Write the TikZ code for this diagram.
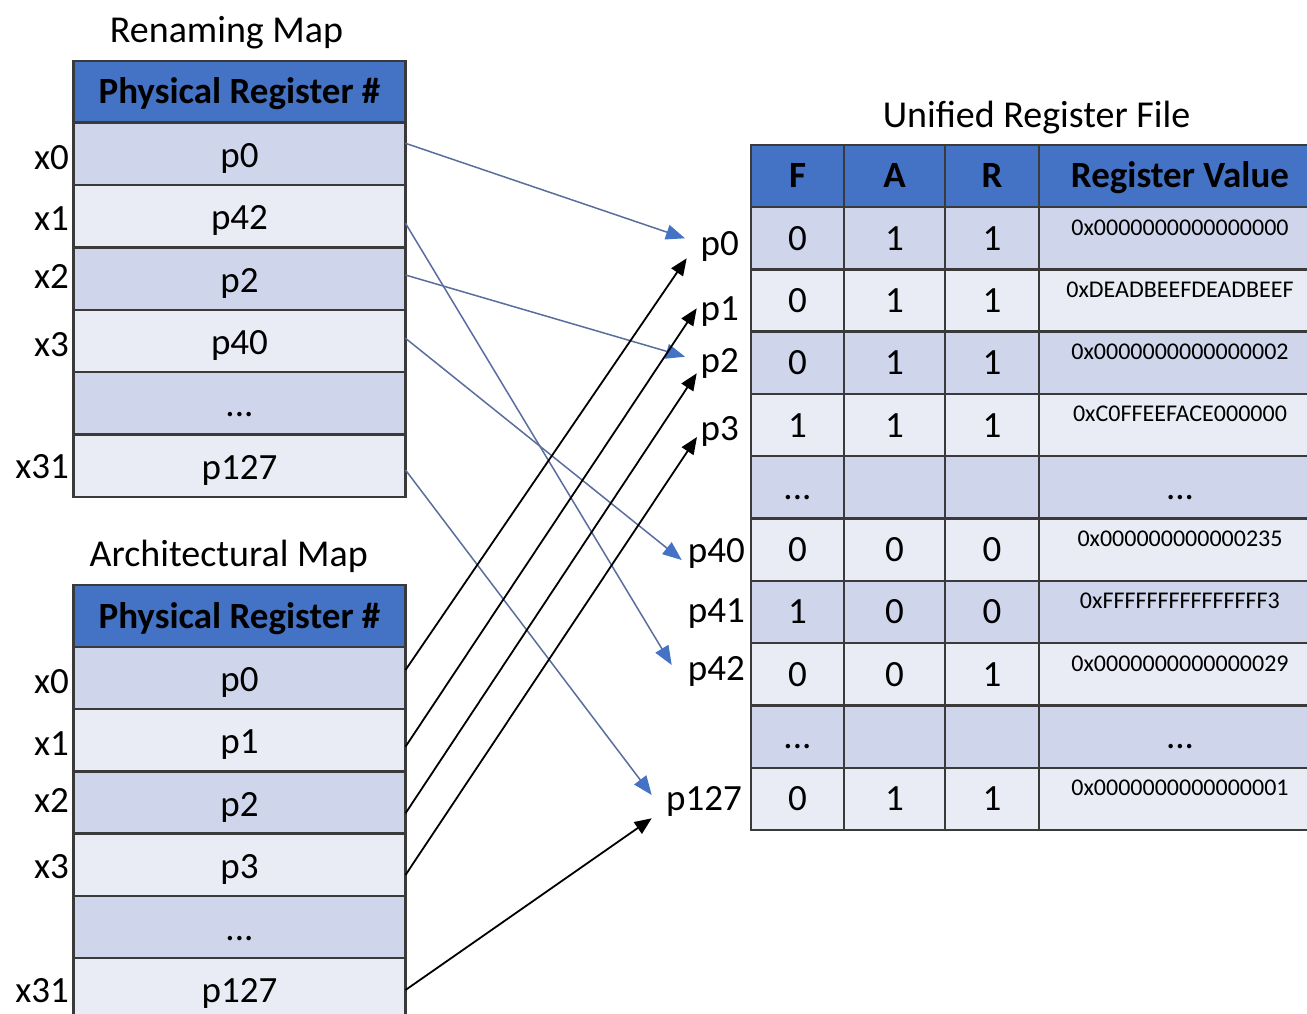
\documentclass[tikz,border=0pt]{standalone}
\usepackage{fontspec}
\setmainfont{Carlito}
\usetikzlibrary{arrows.meta}
\definecolor{hdrblue}{HTML}{4472C4}
\definecolor{rowdark}{HTML}{CFD5EA}
\definecolor{rowlight}{HTML}{E9EBF5}
\definecolor{gridline}{HTML}{3A3A3A}
\definecolor{linkblue}{HTML}{5A6E9E}
% ellipsis used in the elided rows
\newcommand{\rowdots}{...}

\begin{document}
\begin{tikzpicture}[x=1pt,y=-1pt,
  cell/.style={rectangle, draw=gridline, line width=2.4pt, inner sep=0pt, outer sep=0pt,
    font=\fontsize{37}{44}\selectfont, text height=24pt, text depth=0pt},
  hdr/.style={cell, fill=hdrblue, font=\fontsize{37}{44}\selectfont\bfseries},
  darkrow/.style={cell, fill=rowdark},
  lightrow/.style={cell, fill=rowlight},
  mapcell/.style={minimum width=332pt, text height=27pt},
  title/.style={font=\fontsize{38}{44}\selectfont, inner sep=0pt, anchor=base},
  lbl/.style={font=\fontsize{37}{44}\selectfont, inner sep=0pt, anchor=base east},
  hexval/.style={font=\fontsize{24}{28}\selectfont, inner sep=0pt, anchor=base},
  renlink/.style={draw=linkblue, line width=1.5pt,
    -{Triangle[length=19pt, width=15pt, color=hdrblue]}},
  archlink/.style={draw=black, line width=1.8pt,
    -{Triangle[length=17pt, width=14pt]}}
]
\useasboundingbox (0,0) rectangle (1307,1014);
\fill[white] (0,0) rectangle (1307,1014);
\clip (0,0) rectangle (1307,1014);

% ---------- Renaming map ----------
\node[title] (rentitle) at (226.5,43) {Renaming Map};
\node[hdr, minimum width=332pt, minimum height=61.5pt] (rnh) at (239.5,91.75) {Physical Register \#};
\foreach \k/\t/\s in {0/p0/darkrow, 1/p42/lightrow, 2/p2/darkrow, 3/p40/lightrow,
                      4/\rowdots/darkrow, 5/p127/lightrow}
  \node[\s, mapcell, minimum height=62.4pt] (rn\k) at (239.5,{122.5+62.4*(\k+0.5)}) {\t};
\foreach \k/\t/\yb in {0/x0/169, 1/x1/230, 2/x2/288, 3/x3/356, 5/x31/478}
  \node[lbl] (rx\k) at (69,\yb) {\t};

% ---------- Architectural map ----------
\node[title] (archtitle) at (228.7,566) {Architectural Map};
\node[hdr, minimum width=332pt, minimum height=62pt] (arh) at (239.5,616) {Physical Register \#};
\foreach \k/\t/\s in {0/p0/darkrow, 1/p1/lightrow, 2/p2/darkrow, 3/p3/lightrow,
                      4/\rowdots/darkrow, 5/p127/lightrow}
  \node[\s, mapcell, minimum height=62.2pt] (ar\k) at (239.5,{647+62.2*(\k+0.5)}) {\t};
\foreach \k/\t/\yb in {0/x0/693, 1/x1/755, 2/x2/812, 3/x3/878, 5/x31/1002}
  \node[lbl] (ax\k) at (69,\yb) {\t};

% ---------- Unified register file ----------
\node[title] (ureftitle) at (1036.5,128) {Unified Register File};
\node[hdr, minimum width=93pt,  minimum height=62pt] (uhf) at (797.5,176) {F};
\node[hdr, minimum width=101pt, minimum height=62pt] (uha) at (894.5,176) {A};
\node[hdr, minimum width=94pt,  minimum height=62pt] (uhr) at (992,176) {R};
\node[hdr, minimum width=282pt, minimum height=62pt] (uhv) at (1180,176) {Register Value};
\foreach \k/\f/\a/\r/\v/\s in {0/0/1/1/{}/darkrow, 1/0/1/1/{}/lightrow, 2/0/1/1/{}/darkrow,
    3/1/1/1/{}/lightrow, 4/\rowdots/{}/{}/\rowdots/darkrow, 5/0/0/0/{}/lightrow, 6/1/0/0/{}/darkrow,
    7/0/0/1/{}/lightrow, 8/\rowdots/{}/{}/\rowdots/darkrow, 9/0/1/1/{}/lightrow}{
  \node[\s, minimum width=93pt,  minimum height=62.3pt] (uf\k) at (797.5,{207+62.3*(\k+0.5)}) {\f};
  \node[\s, minimum width=101pt, minimum height=62.3pt] (ua\k) at (894.5,{207+62.3*(\k+0.5)}) {\a};
  \node[\s, minimum width=94pt,  minimum height=62.3pt] (ur\k) at (992,{207+62.3*(\k+0.5)}) {\r};
  \node[\s, minimum width=282pt, minimum height=62.3pt] (uv\k) at (1180,{207+62.3*(\k+0.5)}) {\v};
}
\foreach \k/\h in {0/0x0000000000000000, 1/0xDEADBEEFDEADBEEF, 2/0x0000000000000002,
    3/0xC0FFEEFACE000000, 5/0x000000000000235, 6/0xFFFFFFFFFFFFFFF3,
    7/0x0000000000000029, 9/0x0000000000000001}
  \node[hexval] (hx\k) at ([yshift=-28pt]uv\k.north) {\h};

% physical register labels
\node[lbl] (lp0)   at (739,255) {p0};
\node[lbl] (lp1)   at (739,320) {p1};
\node[lbl] (lp2)   at (739,372) {p2};
\node[lbl] (lp3)   at (739,440) {p3};
\node[lbl] (lp40)  at (745,562) {p40};
\node[lbl] (lp41)  at (745,622) {p41};
\node[lbl] (lp42)  at (745,680) {p42};
\node[lbl] (lp127) at (742,810) {p127};

% arrow end points beside the labels
\coordinate (bp0)   at (685,238.3);
\coordinate (bp2)   at (685,356.7);
\coordinate (bp40)  at (681.7,560);
\coordinate (bp42)  at (671.7,665);
\coordinate (bp127) at (651.7,795);
\coordinate (kp0)   at (686.7,258.3);
\coordinate (kp1)   at (696.7,308.3);
\coordinate (kp2)   at (696.7,373.3);
\coordinate (kp3)   at (697,437);
\coordinate (kp127) at (651.7,818.3);

% renaming map links
\draw[renlink] ([yshift=10.4pt]rn0.east) -- (bp0);
\draw[renlink] ([yshift=-7.2pt]rn1.east) -- (bp42);
\draw[renlink] ([yshift=3.5pt]rn2.east) -- (bp2);
\draw[renlink] ([yshift=2.6pt]rn3.east) -- (bp40);
\draw[renlink] ([yshift=-4.3pt]rn5.east) -- (bp127);

% architectural map links
\draw[archlink] ([yshift=8.1pt]ar0.east) -- (kp0);
\draw[archlink] ([yshift=-6.4pt]ar1.east) -- (kp1);
\draw[archlink] ([yshift=-10.8pt]ar2.east) -- (kp2);
\draw[archlink] ([yshift=-10.3pt]ar3.east) -- (kp3);
\draw[archlink] ([yshift=-0.9pt]ar5.east) -- (kp127);
\end{tikzpicture}
\end{document}
